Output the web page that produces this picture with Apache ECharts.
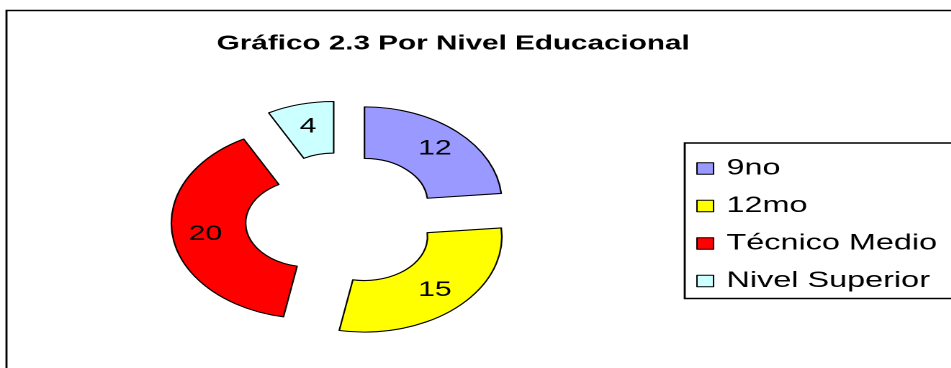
<!DOCTYPE html>
<html>
<head>
<meta charset="utf-8">
<script src="https://cdn.jsdelivr.net/npm/echarts@6/dist/echarts.min.js"></script>
<style>
html,body{margin:0;padding:0;background:#fff;overflow:hidden;width:951px;height:368px;}
#chart{width:661px;height:368px;transform:scaleX(1.44);transform-origin:0 0;}
</style>
</head>
<body>
<div id="chart"></div>
<script>
const titleText = 'Gráfico 2.3 Por Nivel Educacional';
const categories = ['9no', '12mo', 'Técnico Medio', 'Nivel Superior'];
const values = [12, 15, 20, 4];
const colors = ['#9999FF', '#FFFF00', '#FF0000', '#CCFFFF'];

const FONT = '"Liberation Sans", Arial, sans-serif';
const chart = echarts.init(document.getElementById('chart'), null, {renderer: 'canvas', devicePixelRatio: 2});

const pieData = categories.map((name, i) => ({
  name: name,
  value: values[i],
  selected: true,
  itemStyle: {color: colors[i]}
}));

chart.setOption({
  animation: false,
  backgroundColor: '#fff',
  graphic: [{
    type: 'rect',
    shape: {x: 4.5, y: 10.5, width: 1000, height: 1000},
    style: {fill: 'none', stroke: '#000', lineWidth: 1.4},
    silent: true
  }],
  title: {
    text: titleText,
    left: 145.5,
    top: 28.5,
    textStyle: {fontFamily: FONT, fontSize: 20.6, fontWeight: 'bold', color: '#000'}
  },
  legend: {
    orient: 'vertical',
    left: 475.5,
    top: 143,
    padding: [14, 40, 6, 8],
    itemGap: 14.5,
    itemWidth: 11.5,
    itemHeight: 11.5,
    icon: 'rect',
    borderColor: '#000',
    borderWidth: 1.4,
    backgroundColor: '#fff',
    selectedMode: false,
    itemStyle: {borderColor: '#000', borderWidth: 1},
    textStyle: {fontFamily: FONT, fontSize: 22.5, color: '#000', padding: [0, 0, 0, 4]},
    data: categories
  },
  series: [{
    type: 'pie',
    center: [237.4, 219.5],
    radius: [43.8, 95.4],
    startAngle: 90,
    clockwise: true,
    selectedMode: 'multiple',
    selectedOffset: 23.3,
    avoidLabelOverlap: false,
    silent: true,
    itemStyle: {borderColor: '#000', borderWidth: 1.1},
    label: {
      show: true,
      position: 'inside',
      formatter: '{c}',
      fontFamily: FONT,
      fontSize: 21,
      color: '#000',
      offset: [-2, 3]
    },
    labelLine: {show: false},
    emphasis: {scale: false},
    data: pieData
  }]
});
</script>
</body>
</html>
